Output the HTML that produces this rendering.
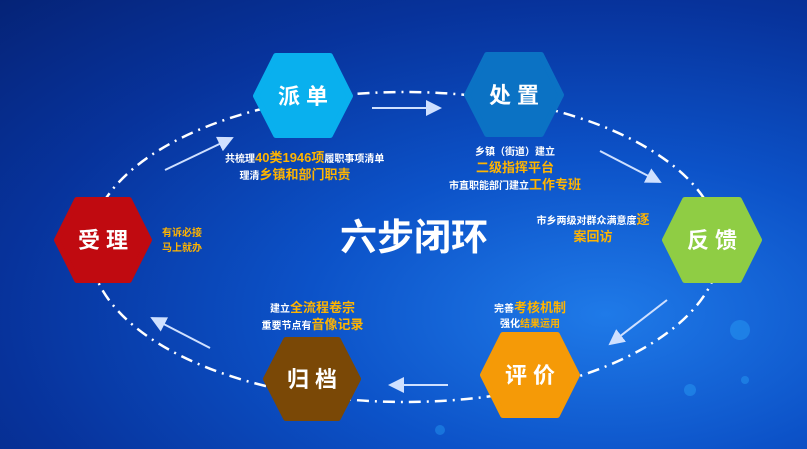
<!DOCTYPE html>
<html><head><meta charset="utf-8"><style>
html,body{margin:0;padding:0}
body{width:807px;height:449px;overflow:hidden;position:relative;font-family:"Liberation Sans","Noto Sans CJK SC",sans-serif;
background:radial-gradient(ellipse at 75% 70%,#1f7ae8 0%,#0c52c8 35%,#07339c 70%,#052377 100%);}
.t{position:absolute;color:#fff;font-weight:bold;font-size:10px;text-align:center;line-height:15px;white-space:nowrap}
.y{color:#ffb400}
.big{font-size:13px}
svg{position:absolute;left:0;top:0}
</style></head><body>
<svg width="807" height="449">
<defs><marker id="a" markerWidth="8" markerHeight="8" refX="7" refY="4" orient="auto"><path d="M0,0L8,4L0,8z" fill="#cfe0ff"/></marker></defs>
<g fill="#2fb0ff" opacity="0.35"><circle cx="740" cy="330" r="10"/><circle cx="690" cy="390" r="6"/><circle cx="555" cy="405" r="8"/><circle cx="745" cy="380" r="4"/><circle cx="440" cy="430" r="5"/></g>
<ellipse cx="405" cy="247" rx="315" ry="155" fill="none" stroke="#fff" stroke-width="2.5" stroke-dasharray="12,6,2,6"/>
<g stroke="#cfe0ff" stroke-width="2" marker-end="url(#a)">
<line x1="372" y1="108" x2="440" y2="108"/>
<line x1="600" y1="151" x2="660" y2="182"/>
<line x1="667" y1="300" x2="610" y2="344"/>
<line x1="448" y1="385" x2="390" y2="385"/>
<line x1="210" y1="348" x2="152" y2="318"/>
<line x1="165" y1="170" x2="232" y2="138"/>
</g>
<g font-family="Liberation Sans,Noto Sans CJK SC,sans-serif" font-weight="bold" font-size="22" fill="#fff" text-anchor="middle" stroke-linejoin="round" stroke-width="6">
<polygon points="256,96 276,56 330,56 350,96 330,135 276,135" fill="#09b0ee" stroke="#09b0ee"/><text x="303" y="104" stroke="none">派 单</text>
<polygon points="467,95 487,55 541,55 561,95 541,134 487,134" fill="#0b72c4" stroke="#0b72c4"/><text x="514" y="103" stroke="none">处 置</text>
<polygon points="665,240 685,200 739,200 759,240 739,280 685,280" fill="#8fcd44" stroke="#8fcd44"/><text x="712" y="248" stroke="none">反 馈</text>
<polygon points="483,375 503,335 557,335 577,375 557,415 503,415" fill="#f59a07" stroke="#f59a07"/><text x="530" y="383" stroke="none">评 价</text>
<polygon points="266,379 286,340 338,340 358,379 338,418 286,418" fill="#7a4806" stroke="#7a4806"/><text x="312" y="387" stroke="none">归 档</text>
<polygon points="57,240 77,200 129,200 149,240 129,280 77,280" fill="#c00a10" stroke="#c00a10"/><text x="103" y="248" stroke="none">受 理</text>
<text x="414" y="250" font-size="37" stroke="none">六步闭环</text>
</g>
</svg>
<div class="t" style="left:225px;top:150px;width:140px">共梳理<span class="y big">40类1946项</span>履职事项清单<br>理清<span class="y big">乡镇和部门职责</span></div>
<div class="t" style="left:430px;top:145px;width:170px">乡镇（街道）建立<br><span class="y big">二级指挥平台</span><br>市直职能部门建立<span class="y big">工作专班</span></div>
<div class="t" style="left:528px;top:212px;width:130px">市乡两级对群众满意度<span class="y big">逐</span><br><span class="y big">案回访</span></div>
<div class="t" style="left:162px;top:226px;text-align:left;color:#ffb400">有诉必接<br>马上就办</div>
<div class="t" style="left:250px;top:300px;width:125px">建立<span class="y big">全流程卷宗</span><br>重要节点有<span class="y big">音像记录</span></div>
<div class="t" style="left:488px;top:300px;width:84px">完善<span class="y big">考核机制</span><br>强化<span class="y">结果运用</span></div>
</body></html>
